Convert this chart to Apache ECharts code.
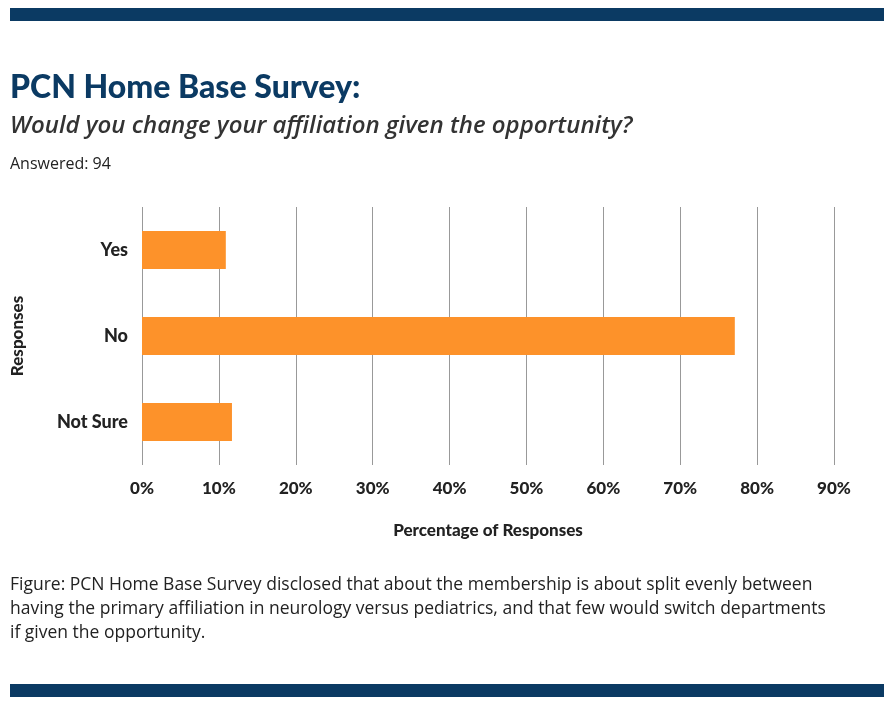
<!DOCTYPE html>
<html lang="en">
<head>
<meta charset="UTF-8" />
<title>PCN Home Base Survey</title>
<script src="https://cdn.jsdelivr.net/npm/echarts@6.0.0/dist/echarts.min.js"></script>
<style>
  body { margin: 0; background: #fff; }
  #chart { width: 894px; height: 704px; }
</style>
</head>
<body>
<div id="chart"></div>
<script>
  // responses, top to bottom in the picture
  var categories = ['Yes', 'No', 'Not Sure']
  var percents = [10.9, 77.1, 11.7]
  var tickMax = 90

  var navy = '#0b3a63'
  var chart = echarts.init(document.getElementById('chart'))
  chart.setOption({
    backgroundColor: '#fff',
    textStyle: { fontFamily: 'Lato' },
    graphic: [
      { type: 'rect', shape: { x: 10, y: 8, width: 874, height: 13 }, style: { fill: navy } },
      { type: 'rect', shape: { x: 10, y: 684, width: 874, height: 13 }, style: { fill: navy } },
      { type: 'text', left: 10, top: 72, style: { text: 'PCN Home Base Survey:', font: '900 32px Lato', fill: navy } },
      { type: 'text', left: 10, top: 114, style: { text: 'Would you change your affiliation given the opportunity?', font: 'italic 600 24px "Open Sans"', fill: '#333' } },
      { type: 'text', left: 10, top: 156, style: { text: 'Answered: 94', font: '16px "Open Sans"', fill: '#222' } },
      { type: 'text', left: 10, top: 573, style: {
          text: 'Figure: PCN Home Base Survey disclosed that about the membership is about split evenly between\nhaving the primary affiliation in neurology versus pediatrics, and that few would switch departments\nif given the opportunity.',
          font: '17.5px "Open Sans"', fill: '#222', lineHeight: 24 } }
    ],
    grid: { left: 142, right: 60, top: 207, bottom: 239 },
    xAxis: {
      type: 'value', min: 0, max: tickMax, interval: 10,
      name: 'Percentage of Responses', nameLocation: 'middle', nameGap: 57,
      nameTextStyle: { fontWeight: 900, fontSize: 17, color: '#222' },
      axisLabel: { formatter: '{value}%', fontWeight: 900, fontSize: 17, color: '#222', margin: 15 },
      axisLine: { show: false }, axisTick: { show: false },
      splitLine: { lineStyle: { color: '#999', width: 1 } }
    },
    yAxis: {
      type: 'category', data: categories, inverse: true,
      name: 'Responses', nameLocation: 'middle', nameGap: 116, nameRotate: 90,
      nameTextStyle: { fontWeight: 900, fontSize: 17, color: '#222' },
      axisLabel: { fontWeight: 900, fontSize: 18, color: '#222', margin: 14 },
      axisLine: { show: false }, axisTick: { show: false }
    },
    series: [{
      type: 'bar', data: percents, barWidth: 38,
      itemStyle: { color: '#fd922a' }
    }]
  })
</script>
</body>
</html>
